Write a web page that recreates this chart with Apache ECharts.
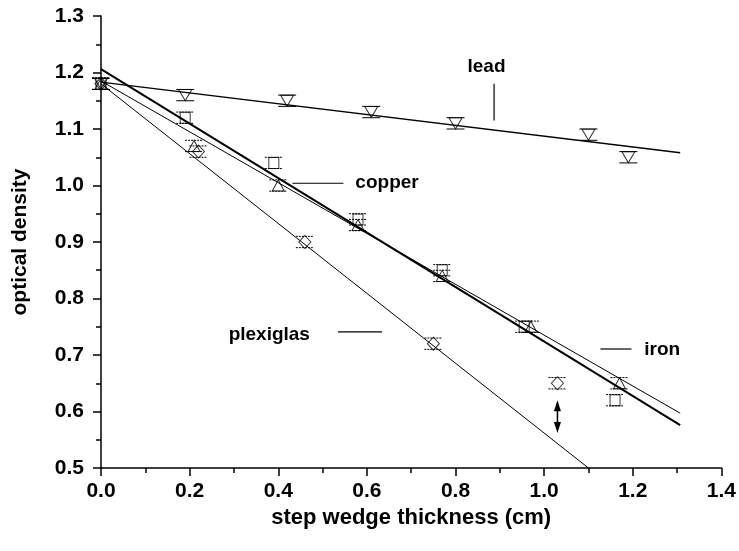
<!DOCTYPE html>
<html><head><meta charset="utf-8">
<script src="https://cdn.jsdelivr.net/npm/echarts@6/dist/echarts.min.js"></script>
<style>html,body{margin:0;padding:0;background:#fff}#c{width:739px;height:551px}</style>
</head><body><div id="c"></div>
<script>
// measured data
const leadX = [0, 0.19, 0.42, 0.61, 0.80, 1.10, 1.19];
const leadY = [1.18, 1.16, 1.15, 1.13, 1.11, 1.09, 1.05];
const copperX = [0, 0.19, 0.39, 0.58, 0.77, 0.955, 1.16];
const copperY = [1.18, 1.12, 1.04, 0.94, 0.85, 0.75, 0.62];
const ironX = [0, 0.21, 0.40, 0.58, 0.77, 0.97, 1.17];
const ironY = [1.18, 1.07, 1.00, 0.93, 0.84, 0.75, 0.65];
const plexX = [0, 0.22, 0.46, 0.75, 1.03];
const plexY = [1.18, 1.06, 0.90, 0.72, 0.65];
const errVal = 0.01;
// fitted lines (end points)
const leadFit = [[0, 1.183], [1.307, 1.058]];
const copperFit = [[0, 1.206], [1.307, 0.576]];
const ironFit = [[0, 1.185], [1.307, 0.597]];
const plexFit = [[0, 1.18], [1.10, 0.5]];
// annotations
const labels = [
  {name: 'lead', pos: [0.870, 1.21], align: 'center'},
  {name: 'copper', pos: [0.574, 1.004], align: 'left'},
  {name: 'plexiglas', pos: [0.288, 0.735], align: 'left'},
  {name: 'iron', pos: [1.226, 0.709], align: 'left'}
];
const leaders = [
  [0.887, 1.180, 0.887, 1.115],
  [0.432, 1.004, 0.547, 1.004],
  [0.535, 0.741, 0.634, 0.741],
  [1.127, 0.7106, 1.197, 0.7106]
];
const arrow = [[1.03, 0.62, 0.562]];
const xTicks = {min: 0, max: 1.4, interval: 0.2};
const yTicks = {min: 0.5, max: 1.3, interval: 0.1};

const zip = (xs, ys) => xs.map((x, i) => [x, ys[i]]);
const FONT = 'Liberation Sans, Arial, sans-serif';

function errSeries(xs, ys, dashed) {
  return {
    type: 'custom', z: 3,
    data: xs.map((x, i) => [x, ys[i], errVal]),
    renderItem: function (params, api) {
      const x = api.value(0), y = api.value(1), e = api.value(2);
      const t = api.coord([x, y + e]), b = api.coord([x, y - e]);
      const hw = 9;
      const st = {stroke: '#000', lineWidth: 1, lineDash: dashed ? [2, 1] : null};
      return {type: 'group', children: [
        {type: 'line', shape: {x1: t[0] - hw, y1: t[1], x2: t[0] + hw, y2: t[1]}, style: st},
        {type: 'line', shape: {x1: b[0] - hw, y1: b[1], x2: b[0] + hw, y2: b[1]}, style: st}
      ]};
    }
  };
}
function scat(xs, ys, symbol, size, rot) {
  return {
    type: 'scatter', z: 4, symbol: symbol, symbolSize: size, symbolRotate: rot || 0,
    data: zip(xs, ys),
    itemStyle: {color: 'rgba(255,255,255,0)', borderColor: '#000', borderWidth: 1},
    emphasis: {disabled: true}
  };
}
function fit(d, w) {
  return {type: 'line', data: d, symbol: 'none', z: 2,
    lineStyle: {color: '#000', width: w}, emphasis: {disabled: true}};
}

const chart = echarts.init(document.getElementById('c'), null, {renderer: 'canvas'});
chart.setOption({
  animation: false,
  backgroundColor: '#fff',
  grid: {left: 101, right: 16, top: 16, bottom: 83, containLabel: false},
  xAxis: {
    type: 'value', min: xTicks.min, max: xTicks.max, interval: xTicks.interval,
    name: 'step wedge thickness (cm)', nameLocation: 'middle', nameGap: 27,
    nameTextStyle: {fontFamily: FONT, fontWeight: 'bold', fontSize: 22, color: '#000'},
    axisLine: {show: true, onZero: false, lineStyle: {color: '#000', width: 1.5}},
    axisTick: {show: true, inside: false, length: 8, lineStyle: {color: '#000', width: 1.5}},
    minorTick: {show: true, splitNumber: 2, length: 5, lineStyle: {color: '#000', width: 1.5}},
    splitLine: {show: false},
    axisLabel: {fontFamily: FONT, fontWeight: 'bold', fontSize: 21, color: '#000', margin: 13,
      formatter: v => v.toFixed(1)}
  },
  yAxis: {
    type: 'value', min: yTicks.min, max: yTicks.max, interval: yTicks.interval,
    name: 'optical density', nameLocation: 'middle', nameGap: 70, nameRotate: 90,
    nameTextStyle: {fontFamily: FONT, fontWeight: 'bold', fontSize: 21, color: '#000'},
    axisLine: {show: true, onZero: false, lineStyle: {color: '#000', width: 1.5}},
    axisTick: {show: true, inside: false, length: 8, lineStyle: {color: '#000', width: 1.5}},
    minorTick: {show: true, splitNumber: 2, length: 5, lineStyle: {color: '#000', width: 1.5}},
    splitLine: {show: false},
    axisLabel: {fontFamily: FONT, fontWeight: 'bold', fontSize: 21, color: '#000', margin: 17,
      formatter: v => v.toFixed(1)}
  },
  series: [
    fit(leadFit, 1.3), fit(copperFit, 2), fit(ironFit, 1), fit(plexFit, 1),
    errSeries(leadX, leadY, false),
    errSeries(copperX, copperY, true),
    errSeries(ironX, ironY, true),
    errSeries(plexX, plexY, true),
    scat(leadX, leadY, 'triangle', [13, 11], 180),
    scat(copperX, copperY, 'rect', [10, 11]),
    scat(ironX, ironY, 'triangle', [12, 11]),
    scat(plexX, plexY, 'diamond', [12, 13]),
    {
      type: 'custom', z: 5, clip: false,
      data: leaders,
      renderItem: function (params, api) {
        const a = api.coord([api.value(0), api.value(1)]), b = api.coord([api.value(2), api.value(3)]);
        return {type: 'line', shape: {x1: a[0], y1: a[1], x2: b[0], y2: b[1]}, style: {stroke: '#000', lineWidth: 1.2}};
      }
    },
    {
      type: 'custom', z: 5, clip: false,
      data: labels.map(l => [l.pos[0], l.pos[1], l.name, l.align]),
      renderItem: function (params, api) {
        const l = labels[params.dataIndex];
        const p = api.coord(l.pos);
        return {type: 'text', x: p[0], y: p[1], style: {text: l.name, align: l.align, verticalAlign: 'middle',
          font: 'bold 19px ' + FONT, fill: '#000'}};
      }
    },
    {
      type: 'custom', z: 5, clip: false,
      data: arrow,
      renderItem: function (params, api) {
        const x = api.value(0);
        const t = api.coord([x, api.value(1)]), b = api.coord([x, api.value(2)]);
        const hw = 3.5, hh = 11;
        return {type: 'group', children: [
          {type: 'line', shape: {x1: t[0], y1: t[1] + 4, x2: b[0], y2: b[1] - 4}, style: {stroke: '#000', lineWidth: 1.5}},
          {type: 'polygon', shape: {points: [[t[0], t[1]], [t[0] - hw, t[1] + hh], [t[0] + hw, t[1] + hh]]}, style: {fill: '#000'}},
          {type: 'polygon', shape: {points: [[b[0], b[1]], [b[0] - hw, b[1] - hh], [b[0] + hw, b[1] - hh]]}, style: {fill: '#000'}}
        ]};
      }
    }
  ]
});
</script></body></html>
